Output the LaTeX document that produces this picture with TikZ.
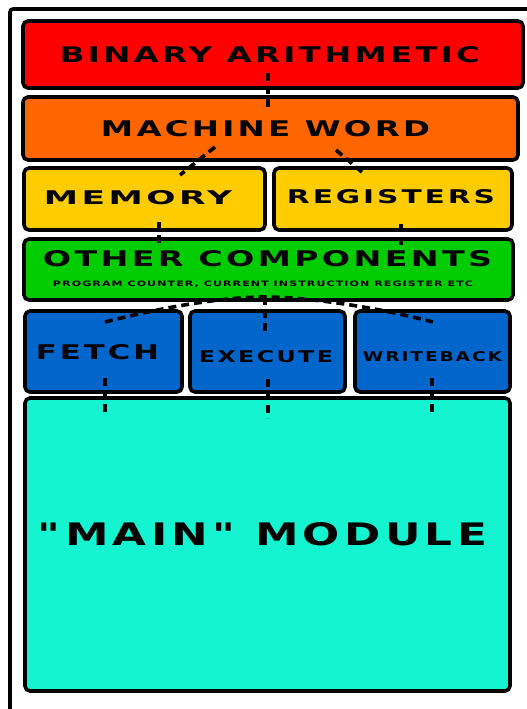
\documentclass[tikz,border=0pt]{standalone}
\usepackage{fontspec}
\usepackage{graphicx}
\newfontfamily\techfont[LetterSpace=10]{DejaVu Sans Bold}
\newcommand{\fittext}[3]{\resizebox{#1pt}{#2pt}{\techfont #3}}
\definecolor{cred}{HTML}{FF0000}
\definecolor{corange}{HTML}{FF6600}
\definecolor{cyellow}{HTML}{FFCC00}
\definecolor{cgreen}{HTML}{00CC00}
\definecolor{cblue}{HTML}{0066CC}
\definecolor{ccyan}{HTML}{14F4D0}
\begin{document}
\begin{tikzpicture}[x=1pt,y=-1pt,
  box/.style={draw=black,line width=3.6pt,rounded corners=5pt,inner sep=0pt,rectangle},
  lbl/.style={inner sep=0pt,anchor=center},
  conn/.style={draw=black,line width=3.6pt,dash pattern=on 8pt off 5pt}]
\useasboundingbox (0,0) rectangle (527,709);
% outer frame
\draw[line width=3.6pt,rounded corners=3pt] (10,712) -- (10,9) -- (530,9);
% boxes
\node[box,fill=cred,minimum width=500pt,minimum height=67pt] (red) at (273,54.5) {};
\node[box,fill=corange,minimum width=495pt,minimum height=63pt] (orange) at (270.5,128.5) {};
\node[box,fill=cyellow,minimum width=241pt,minimum height=62pt] (mem) at (144.5,199) {};
\node[box,fill=cyellow,minimum width=238pt,minimum height=62pt] (reg) at (393,199) {};
\node[box,fill=cgreen,minimum width=489pt,minimum height=61pt] (green) at (268.5,269.5) {};
\node[box,fill=cblue,minimum width=157pt,minimum height=81pt] (fetch) at (103.5,351.5) {};
\node[box,fill=cblue,minimum width=155pt,minimum height=81pt] (exec) at (267.5,351.5) {};
\node[box,fill=cblue,minimum width=155pt,minimum height=81pt] (wb) at (432.5,351.5) {};
\node[box,fill=ccyan,minimum width=485pt,minimum height=293pt] (main) at (267.5,544.5) {};
% labels
\node[lbl] (tred) at (270,55) {\fittext{420}{16}{BINARY ARITHMETIC}};
\node[lbl] (torange) at (265.5,129) {\fittext{329}{16}{MACHINE WORD}};
\node[lbl] (tmem) at (138,198) {\fittext{188}{14}{MEMORY}};
\node[lbl] (treg) at (391,197) {\fittext{208}{14}{REGISTERS}};
\node[lbl] (tgreen) at (267.5,259) {\fittext{449}{16}{OTHER COMPONENTS}};
\node[lbl] (tgreen2) at (263,284.5) {\fittext{420}{5.5}{PROGRAM COUNTER, CURRENT INSTRUCTION REGISTER ETC}};
\node[lbl] (tfetch) at (97.5,352.5) {\fittext{123}{15}{FETCH}};
\node[lbl] (texec) at (266,357) {\fittext{134}{12}{EXECUTE}};
\node[lbl] (twb) at (432.5,357) {\fittext{139}{10}{WRITEBACK}};
\node[lbl] (tmain) at (262.5,534.5) {\fittext{449}{23}{"MAIN" MODULE}};
% connector points
\coordinate (a1) at (268,73);  \coordinate (a2) at (268,110);
\coordinate (b1) at (215,147); \coordinate (b2) at (180,175);
\coordinate (c1) at (336,150); \coordinate (c2) at (363,173);
\coordinate (d1) at (159,222); \coordinate (d2) at (159,247);
\coordinate (e1) at (401,224); \coordinate (e2) at (401,250);
\coordinate (fl) at (105,322); \coordinate (fp) at (265,297); \coordinate (fr) at (433,322);
\coordinate (fd) at (265,331);
\coordinate (g1) at (105,378); \coordinate (g2) at (105,416);
\coordinate (h1) at (268,379); \coordinate (h2) at (268,418);
\coordinate (i1) at (432,378); \coordinate (i2) at (432,416);
% connectors
\draw[conn] (a1) -- (a2);
\draw[conn] (b1) -- (b2);
\draw[conn] (c1) -- (c2);
\draw[conn] (d1) -- (d2);
\draw[conn] (e1) -- (e2);
\draw[conn] (fl) .. controls (160,308) and (220,297) .. (fp) .. controls (310,297) and (380,308) .. (fr);
\draw[conn] (fp) -- (fd);
\draw[conn] (g1) -- (g2);
\draw[conn] (h1) -- (h2);
\draw[conn] (i1) -- (i2);
\end{tikzpicture}
\end{document}
